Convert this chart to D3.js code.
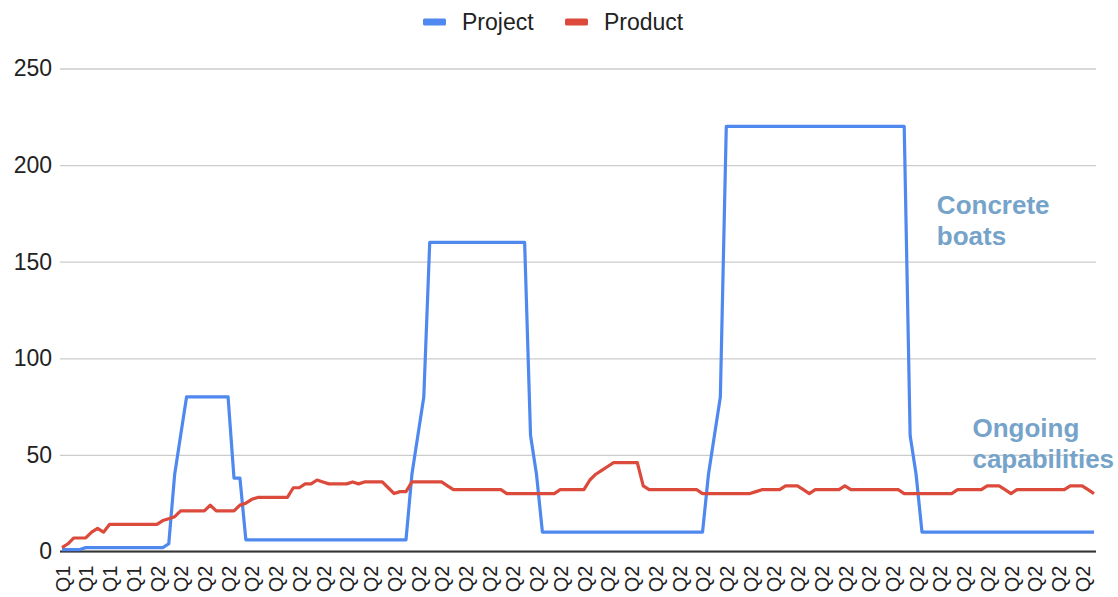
<!DOCTYPE html>
<html>
<head>
<meta charset="utf-8">
<script src="https://cdn.jsdelivr.net/npm/d3@7"></script>
<style>
  body { margin: 0; background: #fff; }
  svg { display: block; font-family: "Liberation Sans", Arial, sans-serif; }
</style>
</head>
<body>
<div id="chart"></div>
<script>
// category labels: quarter name and how many weekly points fall under it
const quarters = ["Q1", "Q2"];
const quarterCounts = [16, 159];

const seriesNames = ["Project", "Product"];
const seriesColors = ["#4f89f0", "#db4a3b"];

const project = [
  1, 1, 1, 1, 2, 2, 2, 2, 2, 2, 2, 2, 2, 2, 2, 2, 2, 2, 4, 40,
  60, 80, 80, 80, 80, 80, 80, 80, 80, 38, 38, 6, 6, 6, 6, 6, 6, 6, 6, 6,
  6, 6, 6, 6, 6, 6, 6, 6, 6, 6, 6, 6, 6, 6, 6, 6, 6, 6, 6, 40,
  60, 80, 160, 160, 160, 160, 160, 160, 160, 160, 160, 160, 160, 160, 160, 160, 160, 160, 160, 60,
  40, 10, 10, 10, 10, 10, 10, 10, 10, 10, 10, 10, 10, 10, 10, 10, 10, 10, 10, 10,
  10, 10, 10, 10, 10, 10, 10, 10, 10, 40, 60, 80, 220, 220, 220, 220, 220, 220, 220, 220,
  220, 220, 220, 220, 220, 220, 220, 220, 220, 220, 220, 220, 220, 220, 220, 220, 220, 220, 220, 220,
  220, 220, 220, 60, 40, 10, 10, 10, 10, 10, 10, 10, 10, 10, 10, 10, 10, 10, 10, 10,
  10, 10, 10, 10, 10, 10, 10, 10, 10, 10, 10, 10, 10, 10, 10
];

const product = [
  2, 4, 7, 7, 7, 10, 12, 10, 14, 14, 14, 14, 14, 14, 14, 14, 14, 16, 17, 18,
  21, 21, 21, 21, 21, 24, 21, 21, 21, 21, 24, 25, 27, 28, 28, 28, 28, 28, 28, 33,
  33, 35, 35, 37, 36, 35, 35, 35, 35, 36, 35, 36, 36, 36, 36, 33, 30, 31, 31, 36,
  36, 36, 36, 36, 36, 34, 32, 32, 32, 32, 32, 32, 32, 32, 32, 30, 30, 30, 30, 30,
  30, 30, 30, 30, 32, 32, 32, 32, 32, 37, 40, 42, 44, 46, 46, 46, 46, 46, 34, 32,
  32, 32, 32, 32, 32, 32, 32, 32, 30, 30, 30, 30, 30, 30, 30, 30, 30, 31, 32, 32,
  32, 32, 34, 34, 34, 32, 30, 32, 32, 32, 32, 32, 34, 32, 32, 32, 32, 32, 32, 32,
  32, 32, 30, 30, 30, 30, 30, 30, 30, 30, 30, 32, 32, 32, 32, 32, 34, 34, 34, 32,
  30, 32, 32, 32, 32, 32, 32, 32, 32, 32, 34, 34, 34, 32, 30
];

const yTicks = [0, 50, 100, 150, 200, 250];
const annotations = [
  { lines: ["Concrete", "boats"], i: 147, v: 174.5 },
  { lines: ["Ongoing", "capabilities"], i: 153, v: 59.5 }
];

const categories = quarters.flatMap((q, k) => d3.range(quarterCounts[k]).map(() => q));

const W = 1118, H = 597;
const margin = { top: 68.5, right: 24, bottom: 45.5, left: 62 };
const width = W - margin.left - margin.right;
const height = H - margin.top - margin.bottom;

const svg = d3.select("#chart")
  .append("svg")
  .attr("width", W)
  .attr("height", H);

const g = svg.append("g")
  .attr("transform", `translate(${margin.left},${margin.top})`);

const x = d3.scalePoint()
  .domain(d3.range(categories.length))
  .range([0, width]);

const y = d3.scaleLinear()
  .domain([0, 250])
  .range([height, 0]);

// gridlines + y labels
const yAxis = g.append("g")
  .call(d3.axisLeft(y).tickValues(yTicks).tickSize(-width - 2).tickPadding(10));
yAxis.select(".domain").remove();
yAxis.selectAll(".tick line")
  .attr("x1", -2)
  .attr("stroke", "#cccccc")
  .attr("stroke-width", 1.3);
yAxis.selectAll(".tick text")
  .attr("fill", "#222")
  .style("font-size", "23px");

// x labels, every 4th category
const xAxis = g.append("g")
  .attr("transform", `translate(0,${height})`)
  .call(d3.axisBottom(x)
    .tickValues(x.domain().filter(i => i % 4 === 0))
    .tickFormat(i => categories[i])
    .tickSize(0));
xAxis.select(".domain").remove();
xAxis.selectAll(".tick text")
  .attr("fill", "#222")
  .style("font-size", "20px")
  .style("text-anchor", "end")
  .attr("transform", "rotate(-90)")
  .attr("x", -14)
  .attr("y", 0)
  .attr("dy", "0.36em");

// baseline
g.append("line")
  .attr("x1", -2)
  .attr("x2", width + 2)
  .attr("y1", y(0))
  .attr("y2", y(0))
  .attr("stroke", "#333")
  .attr("stroke-width", 2);

const line = d3.line()
  .x((d, i) => x(i))
  .y(d => y(d));

[project, product].forEach((values, k) => {
  g.append("path")
    .datum(values)
    .attr("fill", "none")
    .attr("stroke", seriesColors[k])
    .attr("stroke-width", 3.2)
    .attr("stroke-linejoin", "round")
    .attr("d", line);
});

// annotations
annotations.forEach(a => {
  const t = g.append("text")
    .attr("y", y(a.v))
    .attr("fill", "#76a3c9")
    .style("font-size", "26px")
    .style("font-weight", "bold");
  a.lines.forEach((s, j) => {
    t.append("tspan")
      .attr("x", x(a.i) + 3)
      .attr("dy", j === 0 ? 0 : 31)
      .text(s);
  });
});

// legend
const legend = svg.append("g").attr("transform", "translate(423,22)");
const legendX = [0, 142];
seriesNames.forEach((name, k) => {
  const item = legend.append("g").attr("transform", `translate(${legendX[k]},0)`);
  item.append("rect")
    .attr("x", 0)
    .attr("y", -3.5)
    .attr("width", 23)
    .attr("height", 7)
    .attr("rx", 1.5)
    .attr("fill", seriesColors[k]);
  item.append("text")
    .attr("x", 39)
    .attr("y", 0)
    .attr("dy", "0.36em")
    .attr("fill", "#222")
    .style("font-size", "23px")
    .text(name);
});
</script>
</body>
</html>
